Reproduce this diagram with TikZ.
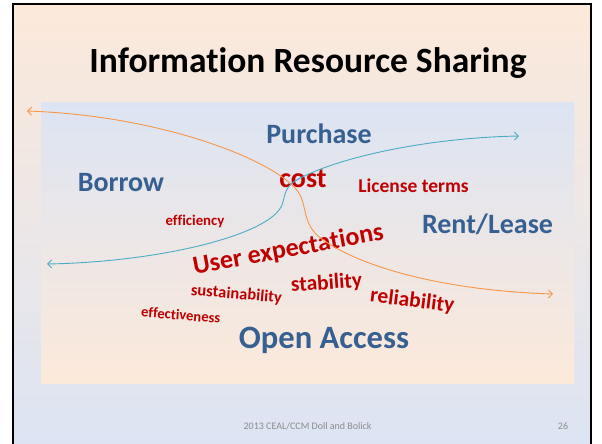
\documentclass[tikz,border=0pt]{standalone}
\usepackage{fontspec}
\setmainfont{Carlito}[Ligatures=NoCommon]
\usetikzlibrary{arrows.meta}
\definecolor{bluetxt}{HTML}{376092}
\definecolor{redtxt}{HTML}{C00000}
\definecolor{orangeln}{HTML}{F79646}
\definecolor{blueln}{HTML}{4BACC6}
\definecolor{peach}{HTML}{FCE9DA}
\definecolor{midblue}{HTML}{C6D4EC}
\definecolor{lightblue}{HTML}{DCE4F3}
\definecolor{foot}{HTML}{8C8C8C}
\begin{document}
\begin{tikzpicture}[x=1pt,y=-1pt,
  fs/.style={font=\fontsize{#1}{#1}\selectfont\bfseries},
  bigword/.style={text=bluetxt, inner sep=0pt, anchor=base},
  redword/.style={text=redtxt, inner sep=0pt, anchor=base},
  footnote/.style={font=\fontsize{10}{12}\selectfont, text=foot, inner sep=0pt, anchor=base},
  flow/.style={line width=0.9pt, {Straight Barb[length=4pt,width=8pt]}-{Straight Barb[length=4pt,width=8pt]}}
]
\useasboundingbox (0,0) rectangle (602,444);
\fill[white] (0,0) rectangle (602,444);
\shade[top color=peach, middle color=midblue, bottom color=lightblue] (13,4) rectangle (591,444);
\shade[top color=lightblue, middle color=midblue, bottom color=peach] (41,102) rectangle (574,383);
\draw[line width=2.5pt] (13,444) -- (13,4) -- (591,4) -- (591,444);

\node[fs=35.5, inner sep=0pt, anchor=base] (title) at (308,72) {Information Resource Sharing};
\node[bigword, fs=28] (purchase) at (319,143) {Purchase};
\node[bigword, fs=28] (borrow) at (121,191) {Borrow};
\node[bigword, fs=28] (rent) at (487.5,233) {Rent/Lease};
\node[bigword, fs=32.6] (oa) at (324,348) {Open Access};
\node[redword, fs=28] (cost) at (303,187) {cost};
\node[redword, fs=19.5] (license) at (413.5,192) {License terms};
\node[redword, fs=14.8] (eff) at (195,225) {efficiency};
\node[redword, fs=26, rotate=10.5] (user) at (289.5,257) {User expectations};
\node[redword, fs=21.5, rotate=4] (stab) at (327,289.5) {stability};
\node[redword, fs=16.5, rotate=-5] (sust) at (236,299) {sustainability};
\node[redword, fs=21.5, rotate=-7] (rel) at (411.5,307) {reliability};
\node[redword, fs=14.6, rotate=-4.5] (effect) at (180.5,320) {effectiveness};
\node[footnote] (footer) at (307.6,429) {2013 CEAL/CCM Doll and Bolick};
\node[footnote] (page) at (563,429) {26};

\coordinate (oL) at (27,111);
\coordinate (o1) at (300,195);
\coordinate (o2) at (318,236);
\coordinate (oR) at (553,294);
\coordinate (bL) at (47,264);
\coordinate (b1) at (282,205);
\coordinate (b2) at (295,181);
\coordinate (bR) at (519,136);

\draw[flow, orangeln] (oL) .. controls (170,116) and (285,165) .. (o1)
  .. controls (307,209) and (303,222) .. (o2)
  .. controls (350,262) and (430,290) .. (oR);
\draw[flow, blueln] (bL) .. controls (160,262) and (270,235) .. (b1)
  .. controls (285,197) and (284,188) .. (b2)
  .. controls (330,160) and (420,138) .. (bR);
\end{tikzpicture}
\end{document}
